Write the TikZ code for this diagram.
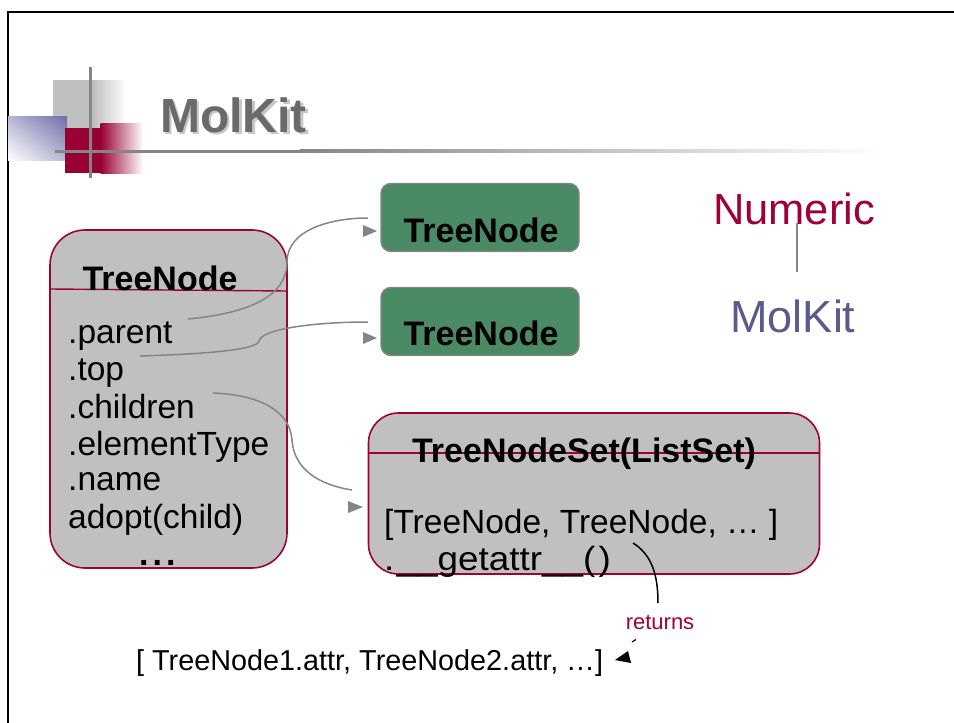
\documentclass[tikz,border=0pt]{standalone}
\usepackage{fontspec}
\setmainfont{Liberation Sans}
\usetikzlibrary{shadings}
\definecolor{crim}{HTML}{A0003A}
\definecolor{slate}{HTML}{5A5A8E}
\definecolor{boxgray}{HTML}{C0C0C0}
\definecolor{greenfill}{HTML}{4A8A64}
\definecolor{linegray}{HTML}{858585}
\definecolor{titlegray}{HTML}{6A6A6A}
\definecolor{logored}{HTML}{990033}
\definecolor{logoblue}{HTML}{6E6EA8}
\newcommand\mkbody{\fontsize{33.5}{38}\selectfont}
\newcommand\mkbold{\fontsize{34}{38}\selectfont\bfseries}
\tikzset{
  classbox/.style={draw=crim, line width=1.6pt, fill=boxgray, rounded corners=#1, inner sep=0pt},
  greenbox/.style={draw=linegray, line width=1.4pt, fill=greenfill, rounded corners=10pt, minimum width=198pt, minimum height=68pt, inner sep=0pt},
  bodytxt/.style={font=\mkbody, inner sep=0pt, anchor=base west},
  boldtxt/.style={font=\mkbold, inner sep=0pt, anchor=base},
  conn/.style={draw=linegray, line width=1.5pt},
  tipfill/.style={fill=linegray}
}
\begin{document}
\begin{tikzpicture}[x=1pt,y=-1pt]
\useasboundingbox (0,0) rectangle (954,723);
% frame
\draw[line width=2pt] (8,723) -- (8,12) -- (954,12);
% logo
\fill[boxgray] (53,80) rectangle (94,128);
\shade[left color=boxgray, right color=white] (93.5,80) rectangle (126,128);
\shade[upper right=logoblue, upper left=logoblue!50, lower left=white, lower right=logoblue!50] (8,116) rectangle (67,160);
\fill[logored] (65,128) rectangle (101,173);
\shade[left color=logored, right color=white] (100.5,123) rectangle (143,173);
\fill[linegray] (88.5,67) rectangle (91.5,178);
\fill[linegray] (55,149.5) rectangle (300,152.5);
\shade[left color=linegray, right color=white] (299.5,149.5) rectangle (885,152.5);
\node[font=\fontsize{48}{52}\selectfont\bfseries, text=black!22, inner sep=0pt, anchor=base west] at (162.5,134.5) {MolKit};
\node[font=\fontsize{48}{52}\selectfont\bfseries, text=titlegray, inner sep=0pt, anchor=base west] (title) at (160,132) {MolKit};
% Numeric / MolKit
\node[font=\fontsize{43.5}{48}\selectfont, text=crim, inner sep=0pt, anchor=base] (num) at (794,224) {Numeric};
\node[font=\fontsize{45}{48}\selectfont, text=slate, inner sep=0pt, anchor=base] (mk) at (793,332) {MolKit};
\coordinate (numb) at (797,223);
\coordinate (mkt) at (797,272);
\draw[linegray, line width=1.5pt] (numb) -- (mkt);
% left TreeNode box
\node[classbox=35pt, minimum width=237pt, minimum height=338pt] (tn) at (168.5,399) {};
\draw[crim, line width=1.4pt] (50,289) -- (287,291);
\node[boldtxt] (tnt) at (160,290) {TreeNode};
\node[bodytxt] (parent) at (68,343) {.parent};
\node[bodytxt] (top) at (68,380) {.top};
\node[bodytxt] (children) at (68,418) {.children};
\node[bodytxt] (etype) at (68,455) {.elementType};
\node[bodytxt] (name) at (68,490) {.name};
\node[bodytxt] (adopt) at (68,528) {adopt(child)};
\node[font=\mkbold, inner sep=0pt, anchor=base west] (dots) at (139,565) {.\kern4pt.\kern4pt.};
% green TreeNode boxes
\node[greenbox] (g1) at (480,217.5) {};
\node[boldtxt] (g1t) at (481,242) {TreeNode};
\node[greenbox] (g2) at (480,321.5) {};
\node[boldtxt] (g2t) at (481,345) {TreeNode};
% TreeNodeSet box
\node[classbox=30pt, minimum width=451pt, minimum height=161pt] (tns) at (594,493.5) {};
\draw[crim, line width=1.4pt] (369,453) -- (819,453);
\node[boldtxt] (tnst) at (584,462) {TreeNodeSet(ListSet)};
\node[bodytxt] (list) at (384,533) {[TreeNode, TreeNode, … ]};
\node[bodytxt] (getattr) at (384,570) {\scalebox{1.1}[1]{.\kern2pt\_\_getattr\_\_(\kern3pt)}};
% connectors
\coordinate (c1s) at (188,319);
\coordinate (c1e) at (368,218);
\draw[conn] (c1s) .. controls (250,313) and (287,296) .. (287,262) .. controls (287,230) and (330,218) .. (c1e);
\fill[tipfill] (363,225) -- (377,231) -- (363,237) -- cycle;
\coordinate (c2s) at (140,356);
\coordinate (c2e) at (368,322);
\draw[conn] (c2s) .. controls (205,354) and (257,350) .. (259,341) .. controls (262,328) and (320,322) .. (c2e);
\fill[tipfill] (363,332) -- (377,338) -- (363,344) -- cycle;
\coordinate (c3s) at (213,393);
\coordinate (c3e) at (352,490);
\draw[conn] (c3s) .. controls (262,395) and (290,412) .. (292,440) .. controls (294,470) and (320,485) .. (c3e);
\fill[tipfill] (348,501) -- (363,507) -- (348,513) -- cycle;
% returns
\coordinate (r1) at (633,543);
\coordinate (r2) at (658,603);
\draw[black, line width=1.5pt] (r1) .. controls (652,555) and (658,575) .. (r2);
\node[font=\fontsize{22}{26}\selectfont, text=crim, inner sep=0pt, anchor=base] (ret) at (660,629) {returns};
\draw[black, line width=1.2pt] (632,642) -- (636,639.5);
\fill[black] (615,660) -- (628,651) -- (631,663) -- cycle;
\node[font=\fontsize{28.8}{32}\selectfont, inner sep=0pt, anchor=base west] (res) at (136,670) {[ TreeNode1.attr, TreeNode2.attr, …]};
\end{tikzpicture}
\end{document}
